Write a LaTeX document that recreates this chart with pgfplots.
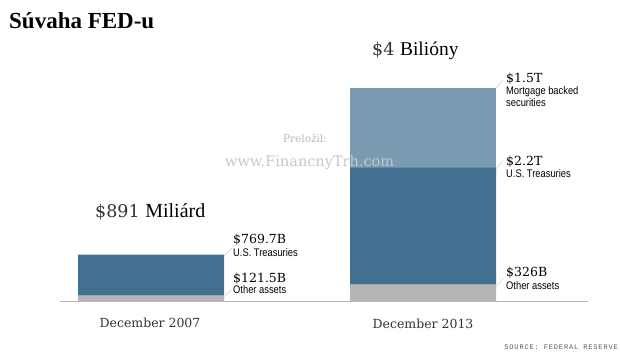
\documentclass[border=0pt]{standalone}
\usepackage{pgfplots}
\pgfplotsset{compat=1.18}
\usepackage{fontspec}
\setmainfont{DejaVu Serif}
\newfontfamily\tms{Liberation Serif}
\newfontfamily\narrow[FakeStretch=0.85]{Liberation Sans}
\newfontfamily\srcfont[LetterSpace=12]{Liberation Mono}
\definecolor{treas}{HTML}{436F91}
\definecolor{mbs}{HTML}{7B9BB2}
\definecolor{oth}{HTML}{B5B5B5}
\definecolor{dgrey}{HTML}{333333}
\begin{document}
\begin{tikzpicture}
\path[use as bounding box] (0pt,0pt) rectangle (620pt,355pt);
\begin{axis}[
  at={(60pt,53pt)}, anchor=south west,
  scale only axis, width=528pt, height=239.4pt,
  xmin=-0.3346, xmax=1.6066, ymin=0, ymax=4500,
  axis lines=none, ticks=none, clip=false,
  ybar stacked, bar width=146pt,
]
\addplot[fill=oth, draw=none] coordinates {(0,121.5) (1,326)};
\addplot[fill=treas, draw=none] coordinates {(0,769.7) (1,2200)};
\addplot[fill=mbs, draw=none] coordinates {(0,0) (1,1500)};
\end{axis}
\draw[color=oth, line width=1pt] (60pt,53pt) -- (588pt,53pt);
% leader lines
\draw[color=black!20, line width=0.5pt] (224pt,99pt) -- (232pt,107pt);
\draw[color=black!20, line width=0.5pt] (224pt,58pt) -- (232pt,66pt);
\draw[color=black!20, line width=0.5pt] (496pt,267pt) -- (503pt,275pt);
\draw[color=black!20, line width=0.5pt] (496pt,186pt) -- (503pt,194pt);
\draw[color=black!20, line width=0.5pt] (496pt,68pt) -- (503pt,76pt);
% title
\node[anchor=base west, inner sep=0pt] at (9pt,326pt) {\tms\bfseries\fontsize{23}{26}\selectfont Súvaha FED-u};
% totals
\node[anchor=base west, inner sep=0pt] at (95pt,137pt) {\color{dgrey}\fontsize{17.5}{20}\selectfont \$891 \color{black}\tms\fontsize{20}{22}\selectfont Miliárd};
\node[anchor=base west, inner sep=0pt] at (372pt,299pt) {\color{dgrey}\fontsize{17.5}{20}\selectfont \$4 \color{black}\tms\fontsize{19.5}{22}\selectfont Bilióny};
% segment labels
\node[anchor=base west, inner sep=0pt, text=black] at (233pt,111pt) {\fontsize{12.5}{14}\selectfont \$769.7B};
\node[anchor=base west, inner sep=0pt, text=black] at (233pt,98pt) {\narrow\fontsize{11}{13}\selectfont U.S. Treasuries};
\node[anchor=base west, inner sep=0pt, text=black] at (233pt,72pt) {\fontsize{12.5}{14}\selectfont \$121.5B};
\node[anchor=base west, inner sep=0pt, text=black] at (233pt,61pt) {\narrow\fontsize{11}{13}\selectfont Other assets};
\node[anchor=base west, inner sep=0pt, text=black] at (506pt,272pt) {\fontsize{12.5}{14}\selectfont \$1.5T};
\node[anchor=base west, inner sep=0pt, text=black] at (506pt,260pt) {\narrow\fontsize{11}{13}\selectfont Mortgage backed};
\node[anchor=base west, inner sep=0pt, text=black] at (506pt,248pt) {\narrow\fontsize{11}{13}\selectfont securities};
\node[anchor=base west, inner sep=0pt, text=black] at (506pt,189pt) {\fontsize{12.5}{14}\selectfont \$2.2T};
\node[anchor=base west, inner sep=0pt, text=black] at (506pt,177pt) {\narrow\fontsize{11}{13}\selectfont U.S. Treasuries};
\node[anchor=base west, inner sep=0pt, text=black] at (506pt,78pt) {\fontsize{12.5}{14}\selectfont \$326B};
\node[anchor=base west, inner sep=0pt, text=black] at (506pt,65pt) {\narrow\fontsize{11}{13}\selectfont Other assets};
% category labels
\node[anchor=base, inner sep=0pt, text=dgrey] at (150pt,27pt) {\fontsize{12.5}{14}\selectfont December 2007};
\node[anchor=base, inner sep=0pt, text=dgrey] at (423pt,26pt) {\fontsize{12.5}{14}\selectfont December 2013};
% source
\node[anchor=base east, inner sep=0pt, text=black!65] at (618pt,5pt) {\srcfont\fontsize{7}{8}\selectfont SOURCE: FEDERAL RESERVE};
% watermark
\node[anchor=base, inner sep=0pt, text=black!28] at (305pt,212pt) {\fontsize{10.5}{12}\selectfont Preložil:};
\node[anchor=base west, inner sep=0pt, text=black!22] at (225pt,188pt) {\fontsize{14.5}{16}\selectfont www.FinancnyTrh.com};
\end{tikzpicture}
\end{document}
